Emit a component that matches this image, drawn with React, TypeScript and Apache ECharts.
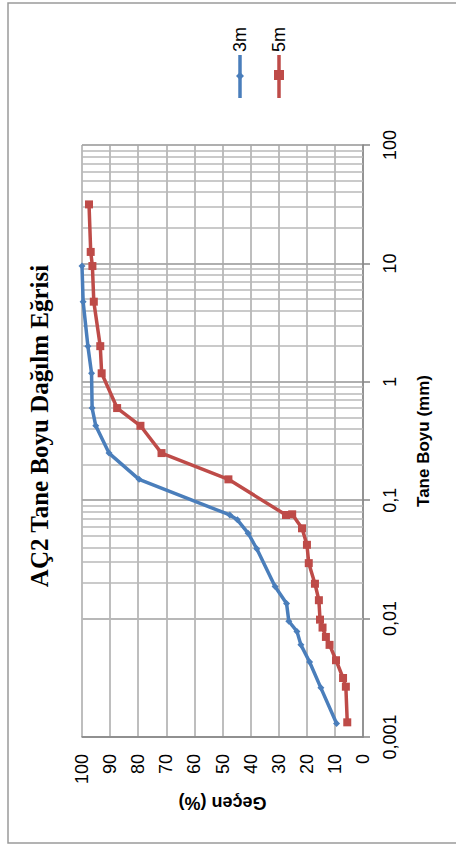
import React, { useEffect, useRef } from "react";
import * as echarts from "echarts";

// ---- data ----
const titleText = "AÇ2 Tane Boyu Dağılm Eğrisi";
const xAxisTitle = "Geçen (%)";
const yAxisTitle = "Tane Boyu (mm)";
const seriesNames = ["3m", "5m"];

// 3m: grain size (mm) and percent passing
const size3m = [9.5, 4.75, 2.0, 1.18, 0.6, 0.425, 0.25, 0.15, 0.075, 0.0683, 0.0527, 0.0389, 0.0187, 0.0134, 0.0095, 0.0078, 0.006, 0.0043, 0.0026, 0.0013];
const pass3m = [100, 99.6, 97.9, 96.6, 96.4, 95.1, 90.4, 79.7, 47.4, 44.7, 40.9, 37.8, 31.3, 27.2, 26.4, 23.5, 22.1, 19.0, 15.0, 9.4];

// 5m
const size5m = [31.5, 12.5, 9.5, 4.75, 2.0, 1.18, 0.6, 0.425, 0.25, 0.15, 0.075, 0.076, 0.0579, 0.042, 0.0294, 0.0197, 0.0143, 0.0098, 0.0084, 0.007, 0.006, 0.00445, 0.00315, 0.00266, 0.00133];
const pass5m = [97.5, 96.9, 96.3, 95.8, 93.5, 93.0, 87.5, 79.2, 71.7, 47.9, 27.4, 25.2, 21.7, 19.95, 19.3, 17.1, 15.7, 15.3, 14.4, 13.2, 11.9, 9.6, 7.1, 6.1, 5.6];

// log-axis decades and minor multipliers
const decades = [0.001, 0.01, 0.1, 1, 10];
const minorMultipliers = [2, 3, 4, 5, 6, 7, 8, 9];

const colors = ["#4A7EBB", "#BE4B48"];

export default function App() {
  const ref = useRef<HTMLDivElement>(null);

  useEffect(() => {
    if (!ref.current) return;
    const chart = echarts.init(ref.current, undefined, { renderer: "svg" });

    const minorLines: any[] = [];
    decades.forEach((d) => minorMultipliers.forEach((m) => minorLines.push({ yAxis: +(d * m).toPrecision(3) })));

    const data3 = size3m.map((s, i) => [pass3m[i], s]);
    const data5 = size5m.map((s, i) => [pass5m[i], s]);

    const labelFont = "'Liberation Sans', Arial, sans-serif";

    const option: any = {
      animation: false,
      backgroundColor: "#ffffff",
      grid: { left: 82, right: 93, top: 145, bottom: 109, containLabel: false },
      xAxis: {
        type: "value",
        min: 0,
        max: 100,
        interval: 10,
        inverse: true,
        position: "bottom",
        axisLine: { show: true, lineStyle: { color: "#868686", width: 1.5 } },
        axisTick: { show: false },
        splitLine: { show: true, lineStyle: { color: "#a8a8a8", width: 1.5 } },
        axisLabel: { rotate: 90, fontSize: 18, color: "#000", fontFamily: labelFont, margin: 17 },
        name: xAxisTitle,
        nameLocation: "middle",
        nameRotate: 180,
        nameGap: 57,
        nameTextStyle: { fontSize: 18, fontWeight: "bold", color: "#000", fontFamily: labelFont },
      },
      yAxis: {
        type: "log",
        logBase: 10,
        min: 0.001,
        max: 100,
        position: "right",
        axisLine: { show: true, lineStyle: { color: "#868686", width: 1.5 } },
        axisTick: { show: true, inside: false, length: 7, lineStyle: { color: "#868686", width: 1.5 } },
        splitLine: { show: true, lineStyle: { color: "#949494", width: 1.5 } },
        axisLabel: {
          rotate: 90,
          fontSize: 18,
          color: "#000",
          fontFamily: labelFont,
          margin: 18,
          formatter: (v: number) => String(+v.toPrecision(3)).replace(".", ","),
        },
        name: yAxisTitle,
        nameLocation: "middle",
        nameRotate: 90,
        nameGap: 52,
        nameTextStyle: { fontSize: 17, fontWeight: "bold", color: "#000", fontFamily: labelFont },
      },
      series: [
        {
          name: "minor",
          type: "line",
          data: [],
          silent: true,
          z: 1,
          markLine: {
            silent: true,
            z: 1,
            symbol: ["none", "none"],
            label: { show: false },
            lineStyle: { color: "#b8b8b8", width: 1.5, type: "solid" },
            data: minorLines,
          },
        },
        {
          name: seriesNames[0],
          type: "line",
          data: data3,
          symbol: "diamond",
          symbolSize: 7,
          z: 3,
          lineStyle: { color: colors[0], width: 3.5 },
          itemStyle: { color: colors[0] },
        },
        {
          name: seriesNames[1],
          type: "line",
          data: data5,
          symbol: "rect",
          symbolSize: 8,
          z: 3,
          lineStyle: { color: colors[1], width: 3.5 },
          itemStyle: { color: colors[1] },
        },
      ],
      graphic: [
        {
          type: "rect",
          z: -10,
          silent: true,
          shape: { x: 8, y: 3, width: 470, height: 840 },
          style: { fill: "none", stroke: "#9a9a9a", lineWidth: 1.5 },
        },
        {
          type: "text",
          x: 39,
          y: 426,
          rotation: Math.PI / 2,
          style: {
            text: titleText,
            font: "bold 25px 'Liberation Serif', 'Times New Roman', serif",
            fill: "#000",
            textAlign: "center",
            textVerticalAlign: "middle",
          },
        },
        // legend (rotated)
        ...seriesNames.map((name, i) => ({
          type: "group",
          x: i === 0 ? 240 : 279,
          y: 98,
          rotation: Math.PI / 2,
          children: [
            { type: "line", shape: { x1: 0, y1: 0, x2: 43, y2: 0 }, style: { stroke: colors[i], lineWidth: 3.5 } },
            i === 0
              ? { type: "polygon", shape: { points: [[22, -4], [26, 0], [22, 4], [18, 0]] }, style: { fill: colors[i] } }
              : { type: "rect", shape: { x: 18, y: -5, width: 10, height: 10 }, style: { fill: colors[i] } },
            {
              type: "text",
              x: 46,
              y: 0,
              style: { text: name, font: "18px 'Liberation Sans', Arial, sans-serif", fill: "#000", textAlign: "left", textVerticalAlign: "middle" },
            },
          ],
        })),
      ],
    };

    chart.setOption(option);
    return () => chart.dispose();
  }, []);

  return (
    <div
      ref={ref}
      style={{ position: "absolute", left: 0, top: 0, width: 456, height: 846, background: "#fff" }}
    />
  );
}
